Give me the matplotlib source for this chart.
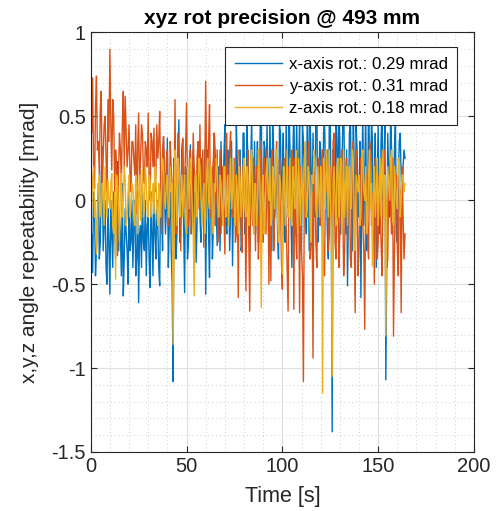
import numpy as np
import matplotlib
matplotlib.use("Agg")
import matplotlib.pyplot as plt
from matplotlib.ticker import MultipleLocator

plt.rcParams['font.family'] = ['Liberation Sans', 'DejaVu Sans']

# samples at whole seconds 0..164
x_rot = [-0.60, -0.43, -0.05, -0.30, 0.10, -0.25, 0.32, -0.15, -0.40, -0.05,
         -0.56, -0.20, 0.05, -0.35, 0.23, -0.10, -0.45, -0.57, -0.05, -0.30,
         0.10, -0.25, -0.40, 0.00, -0.35, -0.61, -0.15, 0.05, -0.30, -0.45,
         -0.10, -0.52, -0.20, 0.10, -0.35, -0.15, -0.51, -0.05, 0.38, -0.20,
         0.37, -0.15, -0.30, -1.08, 0.10, -0.20, 0.48, -0.10, 0.36, -0.55,
         0.15, -0.25, 0.33, -0.05, -0.30, -0.37, 0.20, -0.10, 0.25, -0.20,
         -0.56, 0.30, -0.46, 0.10, -0.15, 0.25, -0.27, 0.05, 0.35, -0.10,
         0.45, -0.20, 0.15, -0.05, -0.39, 0.10, 0.46, -0.15, 0.30, -0.25,
         0.40, -0.10, 0.25, -0.30, 0.50, 0.05, -0.20, 0.35, -0.05, 0.55,
         -0.15, 0.30, 0.45, -0.25, 0.10, 0.57, -0.10, 0.20, -0.35, 0.40,
         0.15, -0.20, 0.50, -0.05, 0.30, -0.40, 0.60, 0.10, -0.15, 0.45,
         -0.25, 0.35, 0.05, 0.55, -0.30, 0.20, 0.40, -0.10, 0.60, 0.00,
         0.30, -0.20, 0.50, 0.10, -0.35, 0.45, -1.38, 0.25, 0.55, -0.10,
         0.35, 0.05, 0.60, -0.20, -0.51, 0.40, 0.10, 0.55, -0.25, 0.30,
         0.00, -0.58, 0.50, 0.15, -0.30, 0.60, -0.05, 0.35, 0.10, -0.40,
         0.45, -0.15, 0.55, 0.20, -1.07, 0.40, -0.10, 0.30, 0.05, 0.50,
         -0.25, 0.35, 0.15, 0.20, 0.25]

y_rot = [0.67, 0.73, 0.07, 0.74, 0.35, 0.55, 0.08, 0.45, 0.25, 0.60,
         0.90, 0.18, 0.50, 0.30, -0.33, 0.40, 0.10, 0.65, 0.62, 0.20,
         0.45, 0.05, 0.35, 0.15, -0.08, 0.52, 0.25, 0.40, 0.10, 0.30,
         0.52, 0.00, 0.35, 0.43, 0.15, 0.25, 0.53, -0.20, 0.38, 0.05,
         0.30, -0.10, 0.20, -0.65, 0.60, 0.05, 0.25, -0.30, 0.37, 0.10,
         0.58, -0.15, 0.30, 0.00, 0.20, -0.10, 0.35, 0.45, 0.15, -0.28,
         0.71, 0.10, 0.57, -0.05, 0.25, -0.15, 0.30, 0.05, -0.20, 0.20,
         -0.32, 0.40, 0.10, 0.41, -0.10, 0.25, -0.20, -0.58, 0.15, -0.31,
         0.20, -0.54, 0.30, -0.66, 0.05, 0.25, -0.30, 0.15, -0.15, 0.35,
         -0.25, 0.10, 0.30, -0.50, -0.48, 0.20, -0.10, 0.35, -0.20, 0.05,
         -0.53, 0.25, -0.15, -0.66, 0.10, 0.30, -0.65, -0.20, 0.15, -0.67,
         -0.30, -1.08, 0.20, -0.10, 0.35, -0.25, -0.94, 0.10, -0.40, 0.25,
         -0.15, 0.30, -0.45, 0.05, -0.30, 0.20, -0.10, 0.40, -0.35, 0.15,
         -0.20, 0.30, -0.45, 0.05, -0.25, 0.20, -0.40, 0.35, -0.67, 0.10,
         -0.30, 0.25, -0.15, -0.77, 0.15, -0.35, 0.30, -0.10, -0.50, 0.20,
         -0.25, 0.10, -0.45, 0.30, -0.05, -0.35, 0.15, -0.20, -0.81, 0.05,
         -0.30, 0.10, -0.67, -0.10, -0.20]

z_rot = [0.05, 0.13, -0.10, -0.32, 0.08, -0.05, 0.10, -0.15, 0.05, 0.12,
         -0.05, 0.16, -0.20, -0.47, 0.10, -0.25, 0.16, 0.00, 0.12, -0.10,
         0.15, -0.05, 0.08, -0.15, 0.10, 0.02, -0.12, 0.18, -0.05, 0.10,
         -0.10, 0.12, 0.00, -0.08, 0.15, -0.15, 0.05, 0.10, 0.20, -0.05,
         0.15, -0.10, 0.05, -0.86, 0.30, -0.15, 0.20, 0.00, -0.10, 0.15,
         -0.20, 0.10, 0.25, -0.05, -0.57, 0.15, 0.00, 0.20, -0.15, 0.10,
         -0.10, 0.25, -0.05, 0.15, -0.20, 0.05, 0.20, -0.10, 0.10, -0.15,
         0.20, 0.00, -0.15, 0.25, 0.05, -0.10, 0.15, -0.20, 0.10, 0.00,
         0.25, -0.10, 0.15, -0.05, 0.30, -0.20, 0.10, -0.05, 0.20, -0.64,
         0.15, -0.10, 0.25, 0.00, -0.15, 0.20, -0.05, 0.30, -0.25, 0.10,
         -0.44, 0.20, 0.05, -0.10, 0.25, -0.15, 0.10, 0.30, -0.20, 0.05,
         0.20, -0.10, 0.35, -0.05, 0.15, -0.25, 0.10, 0.25, -0.10, 0.05,
         0.20, -1.15, 0.15, 0.30, -0.10, 0.05, -1.05, 0.20, -0.15, 0.25,
         0.05, -0.20, 0.30, 0.10, -0.15, 0.20, -0.05, 0.25, -0.30, 0.10,
         0.15, -0.10, 0.30, 0.00, -0.20, 0.15, -0.05, -0.39, 0.20, 0.05,
         -0.15, 0.25, 0.10, -0.10, -0.81, 0.20, 0.00, 0.30, -0.15, 0.10,
         -0.05, 0.20, 0.00, 0.15, 0.10]

# samples at half seconds 0.5..163.5
x_rot_half = [-0.20, 0.05, -0.45, -0.10, -0.35, 0.15, -0.30, 0.00, -0.50, -0.25,
              0.00, -0.40, -0.15, 0.05, -0.30, -0.20, 0.10, -0.35, -0.20, -0.50,
              -0.30, 0.00, -0.15, -0.45, 0.05, -0.20, -0.40, -0.25, 0.00, -0.15,
              -0.35, 0.05, -0.45, -0.20, 0.00, -0.40, 0.15, -0.30, 0.05, -0.05,
              -0.40, 0.20, -0.50, 0.25, -0.35, 0.05, -0.25, 0.30, -0.15, 0.20,
              -0.35, 0.00, -0.20, 0.30, 0.05, -0.15, 0.35, -0.25, 0.00, 0.30,
              0.05, -0.20, 0.20, -0.35, 0.40, -0.05, 0.20, -0.30, 0.00, 0.25,
              -0.10, 0.30, -0.30, 0.35, 0.00, -0.15, 0.20, -0.05, -0.30, 0.40,
              -0.20, 0.45, 0.00, 0.20, -0.15, 0.35, 0.10, -0.25, 0.50, -0.10,
              0.35, -0.05, 0.15, 0.50, -0.30, 0.25, 0.05, -0.20, 0.45, 0.00,
              0.40, -0.25, 0.15, 0.55, -0.10, 0.25, -0.05, 0.50, 0.20, -0.30,
              0.45, 0.10, -0.20, 0.30, 0.50, -0.15, 0.05, 0.55, -0.25, 0.35,
              -0.05, 0.40, 0.15, -0.20, 0.50, 0.00, 0.30, -0.15, 0.35, 0.55,
              -0.20, 0.45, 0.10, 0.30, -0.05, 0.50, -0.30, 0.20, 0.45, -0.10,
              0.35, 0.20, -0.15, 0.55, -0.05, 0.25, 0.50, -0.25, 0.40, 0.10,
              -0.20, 0.35, 0.00, 0.45, -0.30, 0.15, 0.55, -0.05, 0.30, -0.20,
              0.10, 0.40, -0.05, 0.30]

y_rot_half = [0.40, 0.20, 0.55, 0.30, 0.15, 0.65, 0.25, 0.50, 0.05, 0.35,
              0.45, 0.60, 0.05, 0.20, 0.15, 0.30, 0.45, 0.20, 0.40, 0.30,
              0.15, 0.35, 0.25, 0.45, 0.30, 0.05, 0.45, 0.15, 0.35, 0.20,
              0.10, 0.40, 0.20, 0.05, 0.45, 0.35, 0.10, 0.30, 0.15, 0.25,
              -0.15, 0.35, 0.10, 0.00, -0.20, 0.40, 0.10, 0.20, -0.05, 0.30,
              0.05, 0.25, -0.20, 0.40, 0.10, 0.25, -0.05, 0.00, 0.30, 0.15,
              0.20, 0.35, -0.10, 0.15, 0.40, 0.05, -0.25, 0.30, 0.10, -0.05,
              0.15, -0.15, 0.30, 0.00, 0.20, -0.25, 0.10, 0.30, -0.15, 0.20,
              0.00, 0.10, -0.25, 0.25, -0.15, 0.00, 0.20, -0.35, 0.10, -0.10,
              0.25, -0.20, 0.05, 0.15, 0.30, -0.30, 0.20, -0.05, 0.25, -0.35,
              0.10, 0.00, -0.40, 0.20, -0.10, 0.15, 0.25, -0.35, 0.05, 0.20,
              -0.45, 0.15, -0.10, 0.30, -0.35, 0.05, 0.20, -0.25, 0.10, -0.15,
              0.25, -0.40, 0.10, 0.30, -0.20, -0.05, 0.35, -0.25, 0.05, -0.40,
              0.20, 0.00, -0.30, 0.25, 0.10, -0.35, 0.15, -0.20, 0.30, -0.45,
              0.05, 0.20, -0.30, 0.10, -0.25, 0.35, -0.15, 0.05, 0.25, -0.35,
              0.15, -0.25, 0.00, 0.20, -0.40, 0.10, -0.05, 0.25, -0.30, 0.15,
              -0.45, 0.05, 0.20, -0.35]

z_rot_half = [-0.05, 0.20, 0.00, -0.15, 0.15, -0.10, 0.05, 0.20, -0.10, 0.00,
              0.10, -0.15, 0.05, 0.15, -0.05, 0.10, -0.10, 0.20, -0.15, 0.05,
              -0.10, 0.10, -0.05, 0.15, -0.20, 0.15, 0.05, -0.10, 0.20, -0.05,
              0.15, -0.10, 0.10, 0.20, -0.05, 0.10, -0.10, 0.25, 0.00, 0.10,
              -0.10, 0.20, 0.10, -0.20, 0.10, 0.25, -0.10, 0.15, 0.05, -0.15,
              0.20, -0.05, 0.10, -0.20, 0.15, -0.10, 0.25, 0.05, 0.00, -0.20,
              0.15, 0.00, 0.20, -0.15, 0.10, 0.25, -0.10, 0.15, -0.05, 0.20,
              -0.10, 0.15, 0.05, -0.05, 0.25, -0.15, 0.05, 0.20, -0.10, 0.15,
              -0.05, 0.20, -0.15, 0.25, 0.00, 0.10, -0.15, 0.30, -0.05, 0.10,
              -0.20, 0.15, 0.05, 0.25, -0.10, 0.10, 0.25, -0.10, 0.15, -0.05,
              0.20, -0.15, 0.30, 0.00, -0.10, 0.20, -0.05, 0.15, 0.25, -0.15,
              0.05, 0.25, -0.10, 0.20, -0.15, 0.15, 0.30, -0.05, 0.20, -0.10,
              0.10, 0.25, -0.05, 0.15, 0.30, -0.15, 0.10, 0.00, 0.20, -0.10,
              0.25, 0.05, -0.10, 0.20, 0.15, -0.05, 0.30, -0.10, 0.15, 0.05,
              -0.15, 0.25, 0.05, 0.20, -0.10, 0.30, 0.10, 0.00, -0.10, 0.25,
              0.05, -0.10, 0.30, 0.15, -0.05, 0.10, 0.25, -0.10, 0.20, 0.00,
              0.25, -0.10, 0.15, 0.05]

labels = ["x-axis rot.: 0.29 mrad", "y-axis rot.: 0.31 mrad", "z-axis rot.: 0.18 mrad"]
colors = ["#0072BD", "#D95319", "#EDB120"]


def merge(full, half):
    out = []
    for i in range(len(half)):
        out.append(full[i])
        out.append(half[i])
    out.append(full[len(half)])
    return out


time_s = [i * 0.5 for i in range(2 * len(x_rot_half) + 1)]
series = [merge(x_rot, x_rot_half), merge(y_rot, y_rot_half), merge(z_rot, z_rot_half)]

fig = plt.figure(figsize=(4.97, 5.11), dpi=100)
ax = fig.add_axes([0.1825, 0.1155, 0.7712, 0.8209])

for vals, lab, c in zip(series, labels, colors):
    ax.plot(time_s, vals, color=c, lw=1.0, label=lab)

ax.set_xlim(0, 200)
ax.set_ylim(-1.5, 1)
ax.xaxis.set_major_locator(MultipleLocator(50))
ax.xaxis.set_minor_locator(MultipleLocator(10))
ax.yaxis.set_minor_locator(MultipleLocator(0.1))
ax.set_yticks([-1.5, -1, -0.5, 0, 0.5, 1])
ax.set_yticklabels(["-1.5", "-1", "-0.5", "0", "0.5", "1"])

ax.grid(True, which='major', color='#dfdfdf', lw=0.8)
ax.grid(True, which='minor', color='#cfcfcf', lw=0.7, linestyle=(0, (1, 3)))
ax.set_axisbelow(True)
ax.tick_params(which='both', direction='in', top=True, right=True, labelsize=14.5, colors='#262626')
ax.tick_params(which='major', length=4)
ax.tick_params(which='minor', length=0)
for s in ax.spines.values():
    s.set_color('#262626')
    s.set_linewidth(0.8)

ax.set_title("xyz rot precision @ 493 mm", fontsize=15, fontweight='bold', pad=6)
ax.set_xlabel("Time [s]", fontsize=15.5, labelpad=7, color='#262626')
ax.set_ylabel("x,y,z angle repeatability [mrad]", fontsize=15, labelpad=9, color='#262626')

leg = ax.legend(loc='upper right', bbox_to_anchor=(0.956, 0.965), borderaxespad=0,
                fontsize=12.2, handlelength=2.8, handletextpad=0.4, fancybox=False,
                framealpha=1, edgecolor='#262626', labelspacing=0.42, borderpad=0.55)
leg.get_frame().set_linewidth(0.8)

fig.savefig("out.png", dpi=100)
